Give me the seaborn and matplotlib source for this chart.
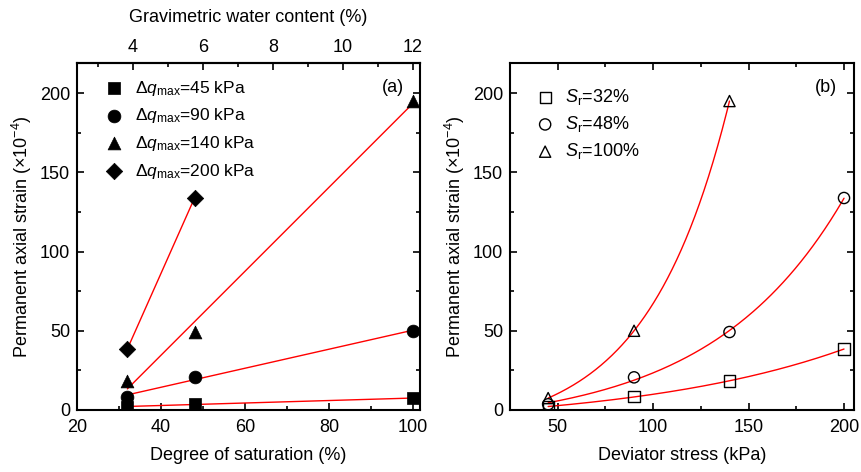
import numpy as np
import pandas as pd
import matplotlib
matplotlib.use("Agg")
import matplotlib.pyplot as plt
import seaborn as sns
from matplotlib.ticker import MultipleLocator

sns.set_theme(style="ticks")
plt.rcParams["font.family"] = ["Liberation Sans", "DejaVu Sans"]
plt.rcParams["mathtext.fontset"] = "custom"
plt.rcParams["mathtext.rm"] = "Liberation Sans"
plt.rcParams["mathtext.it"] = "Liberation Sans:italic"
plt.rcParams["mathtext.bf"] = "Liberation Sans:bold"
for key in ["text.color", "axes.labelcolor", "xtick.color", "ytick.color", "axes.edgecolor"]:
    plt.rcParams[key] = "black"

# ---------------- data ----------------
saturation = [32, 48, 100]            # degree of saturation (%)
stress = [45, 90, 140, 200]           # deviator stress (kPa)
strain_sr32 = [2.1, 8.4, 18.3, 38.5]  # permanent axial strain (x1e-4)
strain_sr48 = [3.6, 20.6, 49.2, 133.8]
strain_sr100 = [7.5, 50.0, 195.0]     # no test at 200 kPa
w_at_full_saturation = 12.0           # gravimetric water content at Sr = 100 %

labels_a = [r"$\Delta q_{\mathrm{max}}$=45 kPa", r"$\Delta q_{\mathrm{max}}$=90 kPa",
            r"$\Delta q_{\mathrm{max}}$=140 kPa", r"$\Delta q_{\mathrm{max}}$=200 kPa"]
labels_b = [r"$S_{\mathrm{r}}$=32%", r"$S_{\mathrm{r}}$=48%", r"$S_{\mathrm{r}}$=100%"]

rows = []
for sr, vals in zip(saturation, [strain_sr32, strain_sr48, strain_sr100]):
    for q, e in zip(stress, vals):
        rows.append({"Sr": sr, "q": q, "strain": e})
df = pd.DataFrame(rows)

markers_a = ["s", "o", "^", "D"]
markers_b = ["s", "o", "^"]


def expgrow_fit(x, y):
    x = np.asarray(x, float); y = np.asarray(y, float)
    best = None
    for b in np.linspace(0.001, 0.08, 4000):
        M = np.column_stack([np.ones_like(x), np.exp(b * x)])
        coef = np.linalg.lstsq(M, y, rcond=None)[0]
        sse = np.sum((M @ coef - y) ** 2)
        if best is None or sse < best[0]:
            best = (sse, coef, b)
    _, (y0, A), b = best
    return lambda t: y0 + A * np.exp(b * t)


fig = plt.figure(figsize=(8.61, 4.72), dpi=100)
ax1 = fig.add_axes([0.0894, 0.1314, 0.3984, 0.7351])
ax2 = fig.add_axes([0.5923, 0.1314, 0.3995, 0.7351])

FS = 13

# ---------------- panel (a) ----------------
for q in stress:
    sub = df[df.q == q].sort_values("Sr")
    coef = np.polyfit(sub.Sr, sub.strain, 1)
    xs = np.linspace(sub.Sr.min(), sub.Sr.max(), 50)
    sns.lineplot(x=xs, y=np.polyval(coef, xs), ax=ax1, color="red", lw=1.0,
                 legend=False, zorder=2)
for q, mk, lab in zip(stress, markers_a, labels_a):
    sub = df[df.q == q]
    sns.scatterplot(x=sub.Sr, y=sub.strain, ax=ax1, marker=mk, color="black",
                    s=85 if mk != "D" else 70, edgecolor="black", linewidth=0.5,
                    label=lab, zorder=3)

ax1.set_xlim(20, 101.7)
ax1.set_ylim(0, 219)
ax1.xaxis.set_major_locator(MultipleLocator(20))
ax1.xaxis.set_minor_locator(MultipleLocator(10))
ax1.yaxis.set_major_locator(MultipleLocator(50))
ax1.yaxis.set_minor_locator(MultipleLocator(25))
ax1.set_xlabel("Degree of saturation (%)", fontsize=FS, labelpad=8)
ax1.set_ylabel(r"Permanent axial strain ($\times$10$^{-4}$)", fontsize=FS)
ax1.tick_params(which="both", direction="in", right=True, top=False, labelsize=FS)
ax1.tick_params(axis="y", pad=5)
ax1.tick_params(axis="x", pad=6.5)
ax1.tick_params(which="major", length=5, width=1.2)
ax1.tick_params(which="minor", length=3, width=1.2)
ax1.legend(frameon=False, loc="upper left", bbox_to_anchor=(0.082, 0.955),
           borderaxespad=0, borderpad=0, fontsize=12.5, handletextpad=0.7,
           labelspacing=0.5, handlelength=1.0)
ax1.text(0.92, 0.93, "(a)", transform=ax1.transAxes, ha="center", va="center", fontsize=FS)

sec = ax1.secondary_xaxis("top", functions=(lambda s: s * w_at_full_saturation / 100.0,
                                            lambda w: w * 100.0 / w_at_full_saturation))
sec.xaxis.set_major_locator(MultipleLocator(2))
sec.xaxis.set_minor_locator(MultipleLocator(1))
sec.tick_params(which="both", direction="in", labelsize=FS, pad=5)
sec.tick_params(which="major", length=5, width=1.2)
sec.tick_params(which="minor", length=3, width=1.2)
sec.set_xlabel("Gravimetric water content (%)", fontsize=FS, labelpad=12)
for sp in sec.spines.values():
    sp.set_linewidth(1.5)

# ---------------- panel (b) ----------------
for sr in saturation:
    sub = df[df.Sr == sr].sort_values("q")
    f = expgrow_fit(sub.q, sub.strain)
    xs = np.linspace(sub.q.min(), sub.q.max(), 200)
    sns.lineplot(x=xs, y=f(xs), ax=ax2, color="red", lw=1.0, legend=False, zorder=2)
for sr, mk, lab in zip(saturation, markers_b, labels_b):
    sub = df[df.Sr == sr]
    sns.scatterplot(x=sub.q, y=sub.strain, ax=ax2, marker=mk, facecolor="none",
                    edgecolor="black", linewidth=1.0, s=65, label=lab, zorder=3)

ax2.set_xlim(25, 205.2)
ax2.set_ylim(0, 219)
ax2.xaxis.set_major_locator(MultipleLocator(50))
ax2.xaxis.set_minor_locator(MultipleLocator(25))
ax2.yaxis.set_major_locator(MultipleLocator(50))
ax2.yaxis.set_minor_locator(MultipleLocator(25))
ax2.set_xlabel("Deviator stress (kPa)", fontsize=FS, labelpad=8)
ax2.set_ylabel(r"Permanent axial strain ($\times$10$^{-4}$)", fontsize=FS)
ax2.tick_params(which="both", direction="in", right=True, top=True, labelsize=FS)
ax2.tick_params(axis="y", pad=5)
ax2.tick_params(axis="x", pad=6.5)
ax2.tick_params(which="major", length=5, width=1.2)
ax2.tick_params(which="minor", length=3, width=1.2)
ax2.legend(frameon=False, loc="upper left", bbox_to_anchor=(0.076, 0.931),
           borderaxespad=0, borderpad=0, fontsize=13, handletextpad=0.6,
           labelspacing=0.4, handlelength=1.0)
ax2.text(0.92, 0.93, "(b)", transform=ax2.transAxes, ha="center", va="center", fontsize=FS)

for ax in (ax1, ax2):
    for sp in ax.spines.values():
        sp.set_linewidth(1.5)

fig.savefig("out.png", dpi=100)
